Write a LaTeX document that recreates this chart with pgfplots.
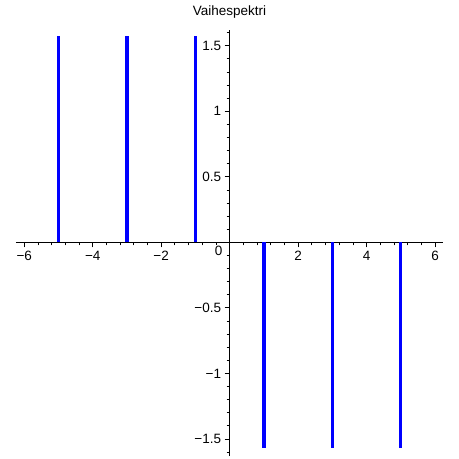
\documentclass[border=0pt]{standalone}
\usepackage{fontspec}
\setmainfont{Liberation Sans}
\usepackage{pgfplots}
\pgfplotsset{compat=1.18}

\begin{document}
\begin{tikzpicture}
\begin{axis}[
    scale only axis,
    width=427pt, height=426pt,
    axis lines=middle,
    axis line style={-, line width=0.8pt},
    xmin=-6.24, xmax=6.23,
    ymin=-1.63, ymax=1.62,
    xtick={-6,-4,-2,2,4,6},
    xticklabels={−6,−4,−2,2,4,6},
    ytick={-1.5,-1,-0.5,0.5,1,1.5},
    yticklabels={−1.5,−1,−0.5,0.5,1,1.5},
    minor xtick={-5.6,-5.2,-4.8,-4.4,-3.6,-3.2,-2.8,-2.4,-1.6,-1.2,-0.8,-0.4,0.4,0.8,1.2,1.6,2.4,2.8,3.2,3.6,4.4,4.8,5.2,5.6},
    minor ytick={-1.6,-1.4,-1.3,-1.2,-1.1,-0.9,-0.8,-0.7,-0.6,-0.4,-0.3,-0.2,-0.1,0.1,0.2,0.3,0.4,0.6,0.7,0.8,0.9,1.1,1.2,1.3,1.4,1.6},
    tick align=outside,
    major tick length=5pt,
    minor tick length=3pt,
    every tick/.style={black, line width=0.8pt},
    tick label style={font=\fontsize{13.5}{15}\selectfont},
    clip=false,
]
\addplot[ycomb, line width=3.2pt, color={rgb,255:red,0;green,0;blue,255}, mark=none]
    coordinates {(-5,1.5708) (-3,1.5708) (-1,1.5708) (1,-1.5708) (3,-1.5708) (5,-1.5708)};
\node[anchor=north east, inner sep=0pt, xshift=-7pt, yshift=-4pt, font=\fontsize{13.5}{15}\selectfont] at (axis cs:0,0) {0};
\end{axis}
\node[anchor=base, inner sep=0pt, font=\fontsize{13.5}{15}\selectfont] at ([yshift=14pt]current axis.north) {Vaihespektri};
\pgfresetboundingbox
\useasboundingbox ([xshift=-16pt,yshift=-3pt]current axis.south west) rectangle ([xshift=16pt,yshift=30pt]current axis.north east);
\end{tikzpicture}
\end{document}
